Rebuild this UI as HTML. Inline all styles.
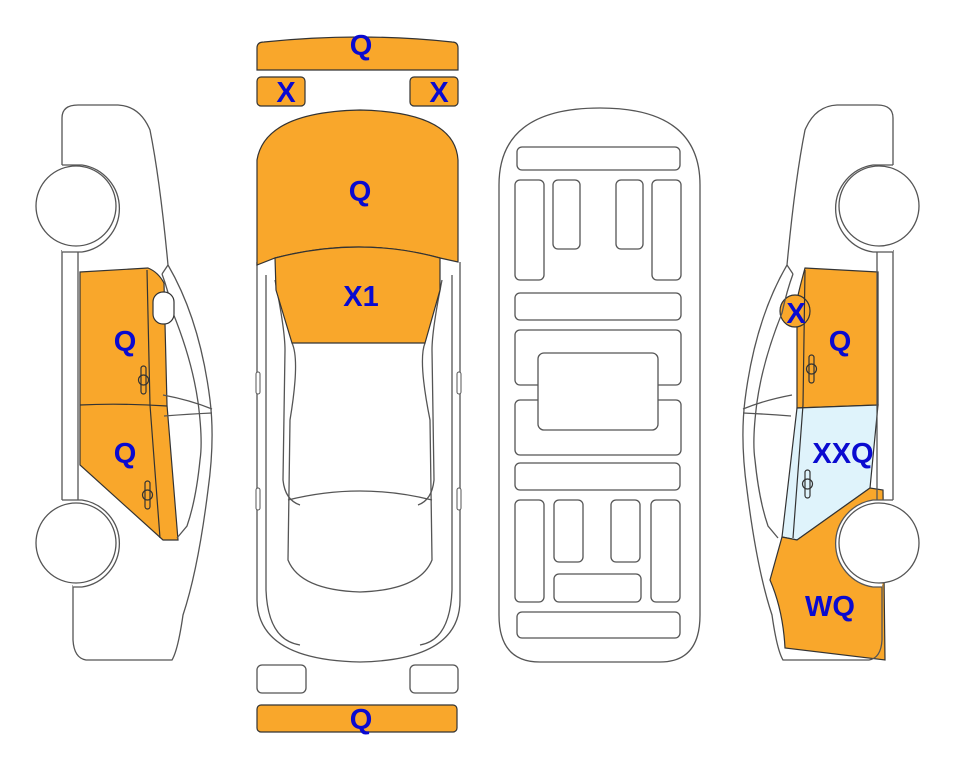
<!DOCTYPE html>
<html><head><meta charset="utf-8"><style>
html,body{margin:0;padding:0;background:#fff;}
svg{display:block;}
text{font-family:"Liberation Sans",Arial,sans-serif;font-weight:bold;font-size:29px;fill:#0a0ad0;text-anchor:middle;}
</style></head><body>
<svg width="963" height="768" viewBox="0 0 963 768" xmlns="http://www.w3.org/2000/svg">
<defs>
<g id="sidelines" fill="none" stroke="#555" stroke-width="1.3">
  <path d="M62,165 L62,118 Q62,105 78,105 L118,105 Q140,106 150,130 Q160,180 168,265 Q200,320 210,400 Q215,440 208,490 Q198,570 183,615 Q178,650 172,660 L86,660 Q74,658 73,640 L73,585"/>
  <path d="M62,250 L62,500 M78,250 L78,500"/>
  <path d="M62,165 L82,165 A44,44 0 0 1 82,252 L62,252" fill="#fff"/>
  <path d="M62,500 L82,500 A44,44 0 0 1 82,587 L73,587" fill="#fff"/>
  <circle cx="76" cy="206" r="40" fill="#fff"/>
  <circle cx="76" cy="543" r="40" fill="#fff"/>
  <path d="M162,274 Q168,290 173,313 Q192,360 198,402 Q203,440 200,460 Q196,500 187,526 L177,538"/>
  <path d="M163,395 Q190,400 212,409 M164,416 Q190,414 212,413"/>
  <path d="M168,265 L162,274"/>
</g>
</defs>

<path d="M80,272 L148,268 Q158,272 164,283 L167,405 L178,540 L163,540 L80,465 Z" fill="#f9a72b" stroke="#333" stroke-width="1.2"/>
<use href="#sidelines"/>
<path d="M80,405 Q120,403 167,406" fill="none" stroke="#333" stroke-width="1.2"/>
<path d="M147,270 L150,405 L160,538" fill="none" stroke="#333" stroke-width="1.2"/>
<rect x="153" y="292" width="21" height="32" rx="10" fill="#fff" stroke="#333" stroke-width="1.2"/>
<g fill="none" stroke="#333" stroke-width="1.2">
<rect x="141" y="366" width="5" height="28" rx="2.5"/><circle cx="143.5" cy="380" r="5"/>
<rect x="145" y="481" width="5" height="28" rx="2.5"/><circle cx="147.5" cy="495" r="5"/>
</g>

<g transform="matrix(-1,0,0,1,955,0)">
<path d="M77,272 L150,268 Q156,290 158,300 L158,408 L77,405 Z" fill="#f9a72b" stroke="#333" stroke-width="1.2"/>
<path d="M77,405 L158,408 L173,537 L158,540 L85,488 Z" fill="#dff3fb" stroke="#333" stroke-width="1.2"/>
<path d="M173,537 L158,540 L85,488 L72,490 L70,660 Q120,654 170,648 Q172,610 185,580 Z" fill="#f9a72b" stroke="#333" stroke-width="1.2"/>
<ellipse cx="160" cy="311" rx="15" ry="16" fill="#f9a72b" stroke="#333" stroke-width="1.2"/>
<use href="#sidelines"/>
<path d="M150,270 L152,405 L162,538" fill="none" stroke="#333" stroke-width="1.2"/>
<g fill="none" stroke="#333" stroke-width="1.2">
<rect x="141" y="355" width="5" height="28" rx="2.5"/><circle cx="143.5" cy="369" r="5"/>
<rect x="145" y="470" width="5" height="28" rx="2.5"/><circle cx="147.5" cy="484" r="5"/>
</g>
</g>

<path d="M257,70 L257,48 Q257,42 264,42 Q360,32 452,42 Q458,42 458,48 L458,70 Z" fill="#f9a72b" stroke="#333" stroke-width="1.2"/>
<rect x="257" y="77" width="48" height="29" rx="4" fill="#f9a72b" stroke="#333" stroke-width="1.2"/>
<rect x="410" y="77" width="48" height="29" rx="4" fill="#f9a72b" stroke="#333" stroke-width="1.2"/>
<g fill="none" stroke="#555" stroke-width="1.3">
<path d="M257,262 L257,600 Q258,660 360,662 Q460,660 460,600 L460,262"/>
<path d="M266,275 L266,590 Q268,640 300,645 M452,275 L452,590 Q450,640 420,645"/>
<path d="M275,280 Q285,330 285,350 L283,480 Q285,500 300,505 M442,280 Q432,330 432,350 L434,480 Q432,500 418,505"/>
<path d="M292,343 Q300,360 290,420 L288,560 Q300,590 360,592 Q420,590 432,560 L430,420 Q418,360 425,343"/>
<path d="M288,500 Q360,482 432,500"/>
</g>
<rect x="256" y="372" width="4" height="22" rx="2" fill="#fff" stroke="#555"/>
<rect x="457" y="372" width="4" height="22" rx="2" fill="#fff" stroke="#555"/>
<rect x="256" y="488" width="4" height="22" rx="2" fill="#fff" stroke="#555"/>
<rect x="457" y="488" width="4" height="22" rx="2" fill="#fff" stroke="#555"/>
<path d="M257,265 L257,160 Q265,112 360,110 Q455,112 458,160 L458,262 L440,258 Q360,236 275,258 Z" fill="#f9a72b" stroke="#333" stroke-width="1.2"/>
<path d="M275,258 Q360,236 440,258 L440,290 L425,343 L292,343 L276,290 Z" fill="#f9a72b" stroke="#333" stroke-width="1.2"/>
<rect x="257" y="665" width="49" height="28" rx="5" fill="#fff" stroke="#555" stroke-width="1.3"/>
<rect x="410" y="665" width="48" height="28" rx="5" fill="#fff" stroke="#555" stroke-width="1.3"/>
<rect x="257" y="705" width="200" height="27" rx="4" fill="#f9a72b" stroke="#333" stroke-width="1.2"/>

<g fill="none" stroke="#555" stroke-width="1.3">
<path d="M499,185 Q499,108 600,108 Q700,108 700,185 L700,615 Q700,662 660,662 L540,662 Q499,662 499,615 Z"/>
<rect x="517" y="147" width="163" height="23" rx="5"/>
<rect x="515" y="180" width="29" height="100" rx="5"/>
<rect x="553" y="180" width="27" height="69" rx="5"/>
<rect x="616" y="180" width="27" height="69" rx="5"/>
<rect x="652" y="180" width="29" height="100" rx="5"/>
<rect x="515" y="293" width="166" height="27" rx="5"/>
<rect x="515" y="330" width="166" height="55" rx="5"/>
<rect x="515" y="400" width="166" height="55" rx="5"/>
<rect x="538" y="353" width="120" height="77" rx="6" fill="#fff"/>
<rect x="515" y="463" width="165" height="27" rx="5"/>
<rect x="515" y="500" width="29" height="102" rx="5"/>
<rect x="554" y="500" width="29" height="62" rx="5"/>
<rect x="611" y="500" width="29" height="62" rx="5"/>
<rect x="651" y="500" width="29" height="102" rx="5"/>
<rect x="554" y="574" width="87" height="28" rx="5"/>
<rect x="517" y="612" width="163" height="26" rx="5"/>
</g>

<text x="361" y="55">Q</text>
<text x="286" y="102">X</text>
<text x="439" y="102">X</text>
<text x="360" y="201">Q</text>
<text x="361" y="306">X1</text>
<text x="125" y="351">Q</text>
<text x="125" y="463">Q</text>
<text x="796" y="323">X</text>
<text x="840" y="351">Q</text>
<text x="843" y="463">XXQ</text>
<text x="830" y="616">WQ</text>
<text x="361" y="729">Q</text>
</svg>
</body></html>
